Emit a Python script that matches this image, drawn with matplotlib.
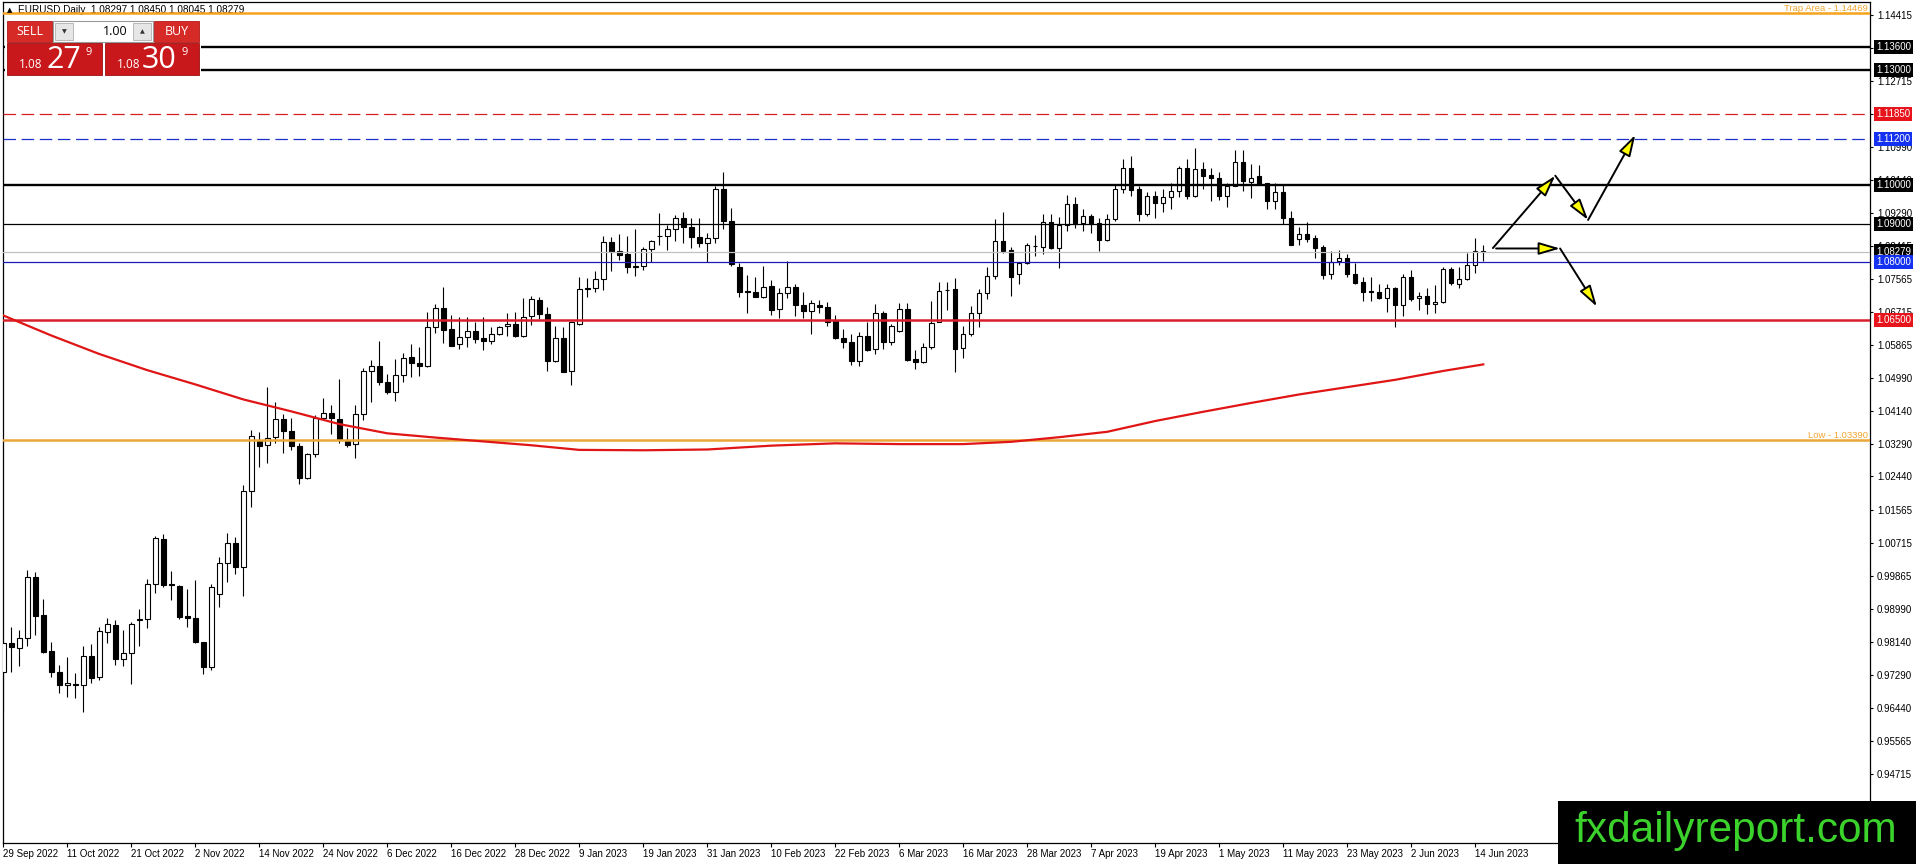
import matplotlib
matplotlib.use("Agg")
import matplotlib.pyplot as plt
from matplotlib.patches import Rectangle
import numpy as np

plt.rcParams['font.family'] = ['Liberation Sans', 'DejaVu Sans']

W, H = 1916, 864

# --- data (EURUSD daily) ---
opens = [0.9735, 0.9812, 0.9798, 0.9824, 0.9982, 0.9884, 0.9791, 0.9736, 0.9702, 0.9705,
         0.9702, 0.9778, 0.9722, 0.9839, 0.9857, 0.9769, 0.9785, 0.9872, 0.9873, 0.9966,
         1.0081, 0.9964, 0.9960, 0.9882, 0.9876, 0.9815, 0.9748, 0.9938, 1.0018, 1.0072,
         1.0010, 1.0207, 1.0337, 1.0326, 1.0347, 1.0392, 1.0363, 1.0323, 1.0239, 1.0302,
         1.0395, 1.0410, 1.0392, 1.0337, 1.0327, 1.0405, 1.0517, 1.0530, 1.0488, 1.0464,
         1.0507, 1.0553, 1.0538, 1.0532, 1.0631, 1.0681, 1.0626, 1.0587, 1.0605, 1.0623,
         1.0603, 1.0596, 1.0613, 1.0635, 1.0640, 1.0609, 1.0661, 1.0702, 1.0665, 1.0545,
         1.0603, 1.0519, 1.0639, 1.0732, 1.0733, 1.0756, 1.0852, 1.0830, 1.0822, 1.0787,
         1.0791, 1.0834, 1.0868, 1.0869, 1.0886, 1.0914, 1.0891, 1.0865, 1.0849, 1.0862,
         1.0990, 1.0908, 1.0787, 1.0725, 1.0724, 1.0711, 1.0739, 1.0678, 1.0720, 1.0735,
         1.0689, 1.0674, 1.0689, 1.0683, 1.0649, 1.0603, 1.0594, 1.0545, 1.0609, 1.0574,
         1.0668, 1.0594, 1.0623, 1.0678, 1.0548, 1.0542, 1.0579, 1.0646, 1.0729, 1.0731,
         1.0577, 1.0613, 1.0668, 1.0720, 1.0765, 1.0856, 1.0832, 1.0769, 1.0797, 1.0842,
         1.0841, 1.0904, 1.0836, 1.0897, 1.0951, 1.0903, 1.0921, 1.0901, 1.0858, 1.0912,
         1.0990, 1.1044, 1.0990, 1.0925, 1.0972, 1.0953, 1.0969, 1.0984, 1.1044, 1.0971,
         1.1042, 1.1027, 1.1018, 1.0973, 1.0999, 1.1060, 1.1009, 1.1024, 1.1005, 1.0960,
         1.0982, 1.0914, 1.0860, 1.0873, 1.0862, 1.0839, 1.0769, 1.0804, 1.0810, 1.0769,
         1.0748, 1.0726, 1.0722, 1.0707, 1.0733, 1.0688, 1.0761, 1.0707, 1.0713, 1.0691,
         1.0696, 1.0783, 1.0745, 1.0756, 1.0793, 1.08297]
highs = [0.9815, 0.9852, 0.9844, 1.0001, 0.9996, 0.9925, 0.9815, 0.9754, 0.9776, 0.9733,
         0.9805, 0.9809, 0.9852, 0.9876, 0.9871, 0.9845, 0.9867, 0.9901, 0.9977, 1.0090,
         1.0095, 0.9998, 0.9962, 0.9953, 0.9975, 0.9815, 0.9966, 1.0034, 1.0096, 1.0088,
         1.0222, 1.0365, 1.0359, 1.0477, 1.0438, 1.0406, 1.0395, 1.0332, 1.0306, 1.0403,
         1.0449, 1.0430, 1.0497, 1.0371, 1.0430, 1.0525, 1.0546, 1.0596, 1.0510, 1.0549,
         1.0564, 1.0588, 1.0579, 1.0672, 1.0693, 1.0735, 1.0663, 1.0657, 1.0657, 1.0644,
         1.0659, 1.0631, 1.0635, 1.0668, 1.0672, 1.0707, 1.0713, 1.0711, 1.0685, 1.0635,
         1.0631, 1.0648, 1.0763, 1.0760, 1.0778, 1.0868, 1.0865, 1.0874, 1.0868, 1.0887,
         1.0839, 1.0858, 1.0929, 1.0897, 1.0923, 1.0930, 1.0914, 1.0914, 1.0875, 1.0998,
         1.1034, 1.0940, 1.0797, 1.0767, 1.0761, 1.0791, 1.0754, 1.0733, 1.0804, 1.0743,
         1.0722, 1.0701, 1.0702, 1.0696, 1.0662, 1.0626, 1.0613, 1.0618, 1.0644, 1.0691,
         1.0674, 1.0640, 1.0694, 1.0694, 1.0572, 1.0590, 1.0700, 1.0750, 1.0750, 1.0759,
         1.0635, 1.0687, 1.0731, 1.0787, 1.0912, 1.0930, 1.0839, 1.0802, 1.0849, 1.0871,
         1.0926, 1.0926, 1.0917, 1.0975, 1.0969, 1.0938, 1.0926, 1.0916, 1.0926, 1.1001,
         1.1068, 1.1076, 1.0998, 1.0982, 1.0985, 1.0990, 1.1007, 1.1050, 1.1068, 1.1096,
         1.1061, 1.1044, 1.1035, 1.1007, 1.1092, 1.1092, 1.1055, 1.1053, 1.1005, 1.1005,
         1.1001, 1.0934, 1.0891, 1.0904, 1.0871, 1.0845, 1.0829, 1.0832, 1.0821, 1.0799,
         1.0761, 1.0761, 1.0743, 1.0745, 1.0737, 1.0771, 1.0780, 1.0724, 1.0733, 1.0741,
         1.0787, 1.0787, 1.0789, 1.0823, 1.0862, 1.0845]
lows = [0.9633, 0.9735, 0.9753, 0.9804, 0.9832, 0.9786, 0.9724, 0.9681, 0.9672, 0.9668,
        0.9633, 0.9707, 0.9715, 0.9812, 0.9754, 0.9753, 0.9705, 0.9804, 0.9850, 0.9942,
        0.9956, 0.9923, 0.9873, 0.9852, 0.9812, 0.9731, 0.9741, 0.9904, 0.9971, 0.9992,
        0.9934, 1.0164, 1.0269, 1.0280, 1.0330, 1.0304, 1.0313, 1.0224, 1.0237, 1.0295,
        1.0391, 1.0353, 1.0330, 1.0320, 1.0291, 1.0391, 1.0438, 1.0482, 1.0458, 1.0440,
        1.0488, 1.0503, 1.0506, 1.0529, 1.0616, 1.0591, 1.0584, 1.0575, 1.0579, 1.0590,
        1.0572, 1.0588, 1.0611, 1.0610, 1.0605, 1.0607, 1.0637, 1.0652, 1.0519, 1.0540,
        1.0514, 1.0482, 1.0637, 1.0711, 1.0724, 1.0728, 1.0778, 1.0806, 1.0773, 1.0765,
        1.0780, 1.0802, 1.0845, 1.0832, 1.0856, 1.0849, 1.0836, 1.0839, 1.0802, 1.0851,
        1.0886, 1.0791, 1.0709, 1.0669, 1.0709, 1.0708, 1.0663, 1.0655, 1.0707, 1.0661,
        1.0655, 1.0613, 1.0669, 1.0635, 1.0601, 1.0577, 1.0533, 1.0532, 1.0570, 1.0562,
        1.0575, 1.0585, 1.0620, 1.0545, 1.0523, 1.0538, 1.0574, 1.0644, 1.0676, 1.0516,
        1.0551, 1.0609, 1.0631, 1.0704, 1.0758, 1.0823, 1.0713, 1.0744, 1.0795, 1.0817,
        1.0822, 1.0835, 1.0786, 1.0882, 1.0890, 1.0882, 1.0875, 1.0830, 1.0856, 1.0908,
        1.0979, 1.0971, 1.0908, 1.0920, 1.0916, 1.0932, 1.0938, 1.0969, 1.0964, 1.0969,
        1.0990, 1.0960, 1.0962, 1.0943, 1.0997, 1.0986, 1.0966, 1.1001, 1.0938, 1.0939,
        1.0900, 1.0845, 1.0845, 1.0854, 1.0810, 1.0758, 1.0757, 1.0793, 1.0763, 1.0745,
        1.0700, 1.0700, 1.0704, 1.0672, 1.0633, 1.0661, 1.0700, 1.0676, 1.0666, 1.0668,
        1.0695, 1.0741, 1.0733, 1.0754, 1.0773, 1.08045]
closes = [0.9812, 0.9802, 0.9824, 0.9982, 0.9882, 0.9789, 0.9737, 0.9702, 0.9707, 0.9703,
          0.9778, 0.9720, 0.9842, 0.9860, 0.9769, 0.9785, 0.9860, 0.9873, 0.9966, 1.0083,
          0.9962, 0.9963, 0.9880, 0.9876, 0.9815, 0.9748, 0.9958, 1.0018, 1.0072, 1.0010,
          1.0207, 1.0350, 1.0323, 1.0345, 1.0392, 1.0363, 1.0324, 1.0239, 1.0302, 1.0395,
          1.0410, 1.0395, 1.0340, 1.0326, 1.0405, 1.0518, 1.0530, 1.0488, 1.0464, 1.0507,
          1.0551, 1.0538, 1.0532, 1.0631, 1.0681, 1.0624, 1.0584, 1.0605, 1.0623, 1.0602,
          1.0596, 1.0613, 1.0633, 1.0640, 1.0609, 1.0659, 1.0704, 1.0665, 1.0545, 1.0603,
          1.0516, 1.0644, 1.0730, 1.0733, 1.0757, 1.0852, 1.0828, 1.0819, 1.0787, 1.0791,
          1.0834, 1.0856, 1.0869, 1.0886, 1.0914, 1.0891, 1.0867, 1.0849, 1.0862, 1.0990,
          1.0908, 1.0795, 1.0724, 1.0723, 1.0711, 1.0737, 1.0676, 1.0720, 1.0735, 1.0689,
          1.0674, 1.0694, 1.0683, 1.0646, 1.0603, 1.0594, 1.0545, 1.0609, 1.0572, 1.0668,
          1.0594, 1.0635, 1.0678, 1.0546, 1.0542, 1.0579, 1.0642, 1.0726, 1.0727, 1.0575,
          1.0613, 1.0668, 1.0720, 1.0765, 1.0856, 1.0830, 1.0761, 1.0797, 1.0844, 1.0843,
          1.0904, 1.0838, 1.0897, 1.0951, 1.0903, 1.0921, 1.0899, 1.0858, 1.0912, 1.0990,
          1.1044, 1.0988, 1.0925, 1.0971, 1.0953, 1.0969, 1.0986, 1.1044, 1.0971, 1.1042,
          1.1025, 1.1018, 1.0973, 1.0999, 1.1060, 1.1010, 1.1018, 1.1003, 1.0960, 1.0982,
          1.0914, 1.0845, 1.0873, 1.0861, 1.0838, 1.0767, 1.0802, 1.0810, 1.0769, 1.0747,
          1.0724, 1.0724, 1.0707, 1.0733, 1.0688, 1.0761, 1.0705, 1.0713, 1.0691, 1.0696,
          1.0783, 1.0747, 1.0757, 1.0793, 1.0829, 1.08279]

date_labels = ["29 Sep 2022", "11 Oct 2022", "21 Oct 2022", "2 Nov 2022", "14 Nov 2022",
               "24 Nov 2022", "6 Dec 2022", "16 Dec 2022", "28 Dec 2022", "9 Jan 2023",
               "19 Jan 2023", "31 Jan 2023", "10 Feb 2023", "22 Feb 2023", "6 Mar 2023",
               "16 Mar 2023", "28 Mar 2023", "7 Apr 2023", "19 Apr 2023", "1 May 2023",
               "11 May 2023", "23 May 2023", "2 Jun 2023", "14 Jun 2023"]

# moving average (red curve), sampled along the bars
ma_bars = [0, 6, 12, 18, 24, 30, 36, 42, 48, 54, 60, 66, 72, 80, 88, 96, 104, 112,
           120, 126, 132, 138, 144, 150, 156, 162, 168, 174, 180, 185]
ma_vals = [1.0662, 1.0610, 1.0562, 1.0520, 1.0483, 1.0444, 1.0413, 1.0380, 1.0356,
           1.0345, 1.0335, 1.0325, 1.0313, 1.0312, 1.0314, 1.0324, 1.0330, 1.0328,
           1.0328, 1.0334, 1.0346, 1.0360, 1.0388, 1.0412, 1.0435, 1.0457, 1.0476,
           1.0495, 1.0518, 1.0535]

price_ticks = [1.14415, 1.13565, 1.12715, 1.11840, 1.10990, 1.10140, 1.09290, 1.08415,
               1.07565, 1.06715, 1.05865, 1.04990, 1.04140, 1.03290, 1.02440, 1.01565,
               1.00715, 0.99865, 0.98990, 0.98140, 0.97290, 0.96440, 0.95565, 0.94715]

trap_area = 1.14469
low_level = 1.03390
major_levels = [1.13600, 1.13000, 1.10000]
minor_level = 1.09000
target_red = 1.11850
target_blue = 1.11200
pivot_level = 1.08000
support_level = 1.06500
current_price = 1.08279

# projected paths (bar index, price)
path_up = [(186.2, 1.0837), (194.0, 1.1025), (198.1, 1.0910), (204.0, 1.1131)]
path_down = [(186.6, 1.0836), (194.6, 1.0836), (199.2, 1.0685)]


def fx(x):
    return x / W


def fy(y):
    return 1 - y / H


fig = plt.figure(figsize=(W / 100, H / 100), dpi=100)
ax = fig.add_axes([fx(3), fy(843), (1870 - 3) / W, (843 - 1.7) / H])
ax.set_xlim(-0.04, 233.34)
ax.set_ylim(0.92922, 1.14768)

# candles
o = np.array(opens)
c = np.array(closes)
xs = np.arange(len(c))
up = c >= o
ax.vlines(xs, lows, highs, color='black', lw=0.8, zorder=2)
ax.bar(xs[up], (c - o)[up], bottom=o[up], width=0.55, color='white',
       edgecolor='black', linewidth=0.8, zorder=3)
ax.bar(xs[~up], (o - c)[~up], bottom=c[~up], width=0.55, color='black',
       edgecolor='black', linewidth=0.8, zorder=3)

# horizontal levels
ax.axhline(trap_area, color='#f5a21c', lw=1.8, zorder=4)
ax.axhline(low_level, color='#eaa638', lw=1.8, zorder=4)
for lv in major_levels:
    ax.axhline(lv, color='black', lw=1.7, zorder=4)
ax.axhline(minor_level, color='black', lw=0.9, zorder=4)
ax.axhline(target_red, color='#d42020', lw=0.9, dashes=(10, 4.5), zorder=4)
ax.axhline(target_blue, color='#1c2fc8', lw=0.9, dashes=(10, 4.5), zorder=4)
ax.axhline(current_price, color='#c0c0c0', lw=0.9, zorder=4)
ax.axhline(pivot_level, color='#1a1ab8', lw=0.9, zorder=4)
ax.axhline(support_level, color='#d8202a', lw=1.8, zorder=4)

# moving average
ax.plot(ma_bars, ma_vals, color='#e01515', lw=1.6, zorder=5)

# level captions
ax.text(0.9989, trap_area, "Trap Area - 1.14469", transform=ax.get_yaxis_transform(),
        ha='right', va='bottom', color='#f0a530', fontsize=6.8, zorder=6)
ax.text(0.9989, low_level, "Low - 1.03390", transform=ax.get_yaxis_transform(),
        ha='right', va='bottom', color='#f0a530', fontsize=6.8, zorder=6)

# arrows
for path in (path_up, path_down):
    for (x0, y0), (x1, y1) in zip(path[:-1], path[1:]):
        ax.annotate('', xy=(x1, y1), xytext=(x0, y0), zorder=7, annotation_clip=False,
                    arrowprops=dict(arrowstyle='-|>,head_length=1.3,head_width=0.38',
                                    fc='#ffff00', ec='black', lw=1.4, shrinkA=0,
                                    shrinkB=0, mutation_scale=10))

# axes styling
for sp in ax.spines.values():
    sp.set_linewidth(0.9)
    sp.set_color('black')
ax.yaxis.tick_right()
ax.set_yticks(price_ticks)
ax.set_yticklabels([f"{v:.5f}" for v in price_ticks])
ax.tick_params(axis='y', direction='out', length=2.5, width=0.8, pad=2.5,
               labelsize=7, colors='black')
ax.set_xticks(np.arange(0, len(c), 8))
ax.set_xticklabels(date_labels, ha='left')
ax.tick_params(axis='x', direction='out', length=3, width=0.8, pad=1.5, labelsize=7)

# price boxes on right scale
boxes = [(1.13600, 'black'), (1.13000, 'black'), (target_red, '#e8141c'),
         (target_blue, '#1430f0'), (1.10000, 'black'), (minor_level, 'black'),
         (current_price, 'black'), (pivot_level, '#1430f0'), (support_level, '#e8141c')]
for val, col in boxes:
    ax.text(1.0032, val, f"{val:.5f}", transform=ax.get_yaxis_transform(),
            ha='left', va='center', color='white', fontsize=7, zorder=8, clip_on=False,
            bbox=dict(boxstyle='square,pad=0.22', fc=col, ec='none'))

# title line
fig.text(fx(7), fy(10), "\u25b2", fontsize=5, va='center', ha='left', color='black',
         family=['DejaVu Sans'])
ax.text(fx(18), fy(13), "EURUSD,Daily  1.08297 1.08450 1.08045 1.08279",
        transform=fig.transFigure, fontsize=7.2, va='baseline', ha='left', zorder=1)

# one-click trading panel
def prect(x0, y0, x1, y1, **kw):
    fig.add_artist(Rectangle((fx(x0), fy(y1)), (x1 - x0) / W, (y1 - y0) / H,
                             transform=fig.transFigure, **kw))

prect(5, 19, 201, 76, fc='white', ec='none', zorder=10)
prect(7, 21, 52, 42, fc='#d62a27', ec='#b01818', lw=0.6, zorder=11)
prect(154, 21, 199, 42, fc='#d62a27', ec='#b01818', lw=0.6, zorder=11)
prect(53, 21, 153, 42, fc='white', ec='#9a9a9a', lw=0.8, zorder=11)
prect(55, 23, 73, 40, fc='#e6e6e6', ec='#b0b0b0', lw=0.6, zorder=12)
prect(133, 23, 151, 40, fc='#e6e6e6', ec='#b0b0b0', lw=0.6, zorder=12)
prect(7, 43, 102, 75, fc='#c8181c', ec='#9c1010', lw=0.6, zorder=11)
prect(105, 43, 199, 75, fc='#c8181c', ec='#9c1010', lw=0.6, zorder=11)

fig.text(fx(29.5), fy(31.5), "SELL", color='white', fontsize=9, ha='center', va='center',
         family=['Open Sans', 'DejaVu Sans'], zorder=13)
fig.text(fx(176.5), fy(31.5), "BUY", color='white', fontsize=9, ha='center', va='center',
         family=['Open Sans', 'DejaVu Sans'], zorder=13)
fig.text(fx(64), fy(31.5), "\u25bc", color='#333333', fontsize=4.5, ha='center',
         va='center', family=['DejaVu Sans'], zorder=13)
fig.text(fx(142), fy(31.5), "\u25b2", color='#333333', fontsize=4.5, ha='center',
         va='center', family=['DejaVu Sans'], zorder=13)
fig.text(fx(128), fy(31.5), "1.00", color='black', fontsize=9, ha='right', va='center',
         family=['Open Sans', 'DejaVu Sans'], zorder=13)

for x_small, x_big, x_sup, big in ((19, 47, 85, "27"), (117, 142, 181, "30")):
    fig.text(fx(x_small), fy(68), "1.08", color='white', fontsize=8.5, ha='left',
             va='baseline', family=['Open Sans', 'DejaVu Sans'], zorder=13)
    fig.text(fx(x_big), fy(68), big, color='white', fontsize=22, ha='left',
             va='baseline', family=['Open Sans', 'DejaVu Sans'], zorder=13)
    fig.text(fx(x_sup), fy(55), "9", color='white', fontsize=8, ha='left',
             va='baseline', family=['Open Sans', 'DejaVu Sans'], zorder=13)

# watermark
prect(1558, 801, 1916, 864, fc='black', ec='none', zorder=20)
fig.text(fx(1736), fy(842), "fxdailyreport.com", color='#3bd22c', fontsize=30.5,
         ha='center', va='baseline', family=['Liberation Sans', 'DejaVu Sans'], zorder=21)

fig.savefig("out.png", dpi=100, facecolor='white')
